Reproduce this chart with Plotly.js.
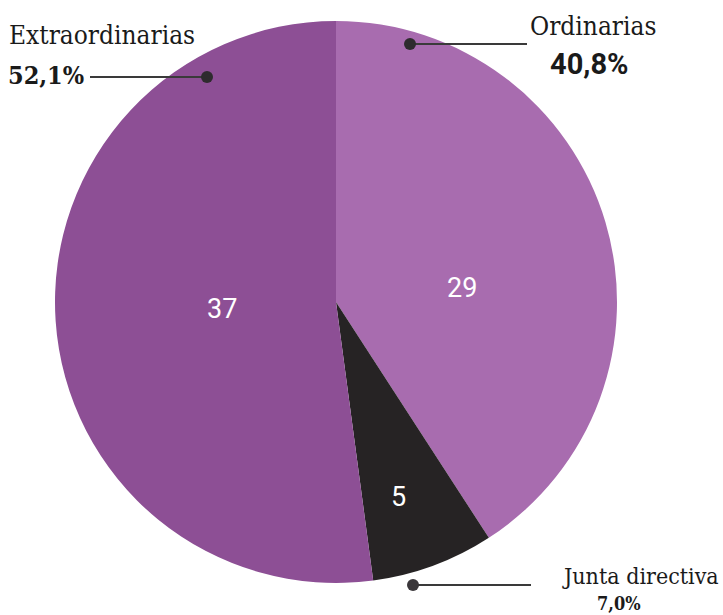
<!DOCTYPE html>
<html>
<head>
<meta charset="utf-8">
<script src="https://cdn.plot.ly/plotly-3.0.1.min.js"></script>
<style>
html,body{margin:0;padding:0;background:#fff;}
#chart{width:723px;height:615px;}
</style>
</head>
<body>
<div id="chart"></div>
<script>
// Data
var categories = ["Ordinarias", "Junta directiva", "Extraordinarias"];
var values = [29, 5, 37];
var percentLabels = ["40,8%", "7,0%", "52,1%"];
var sliceColors = ["#a86caf", "#262324", "#8d4f95"];

var W = 723, H = 615;
var cx = 336, cy = 302, R = 281;
function px(x){ return x / W; }
function py(y){ return 1 - y / H; }

var trace = {
  type: "pie",
  labels: categories,
  values: values,
  sort: false,
  direction: "clockwise",
  rotation: 0,
  textinfo: "none",
  marker: {colors: sliceColors, line: {width: 0}},
  hoverinfo: "label+value+percent",
  showlegend: false,
  domain: {x: [px(cx - R), px(cx + R)], y: [py(cy + R), py(cy - R)]}
};

var serif = "DejaVu Serif Condensed, DejaVu Serif, serif";
var numFont = {family: "Roboto, sans-serif", size: 27, color: "#ffffff"};
var lineColor = "#3a3a3a";

var layout = {
  width: W, height: H,
  margin: {l: 0, r: 0, t: 0, b: 0},
  paper_bgcolor: "#ffffff",
  showlegend: false,
  shapes: [
    {type: "line", xref: "paper", yref: "paper", x0: px(90), x1: px(207), y0: py(77), y1: py(77), line: {color: lineColor, width: 2}},
    {type: "circle", xref: "paper", yref: "paper", x0: px(201), x1: px(213), y0: py(71), y1: py(83), fillcolor: "#2e2b2e", line: {width: 0}},
    {type: "line", xref: "paper", yref: "paper", x0: px(410), x1: px(527), y0: py(44), y1: py(44), line: {color: lineColor, width: 2}},
    {type: "circle", xref: "paper", yref: "paper", x0: px(404), x1: px(416), y0: py(38), y1: py(50), fillcolor: "#2e2b2e", line: {width: 0}},
    {type: "line", xref: "paper", yref: "paper", x0: px(413), x1: px(531), y0: py(585), y1: py(585), line: {color: lineColor, width: 2}},
    {type: "circle", xref: "paper", yref: "paper", x0: px(407), x1: px(419), y0: py(579), y1: py(591), fillcolor: "#3a373a", line: {width: 0}}
  ],
  annotations: [
    // slice values
    {text: String(values[2]), xref: "paper", yref: "paper", x: px(222), y: py(309), xanchor: "center", yanchor: "middle", showarrow: false, font: numFont},
    {text: String(values[0]), xref: "paper", yref: "paper", x: px(462), y: py(288), xanchor: "center", yanchor: "middle", showarrow: false, font: numFont},
    {text: String(values[1]), xref: "paper", yref: "paper", x: px(398), y: py(497), xanchor: "center", yanchor: "middle", showarrow: false, font: numFont},
    // outside labels
    {text: categories[2], xref: "paper", yref: "paper", x: px(7), y: py(35), xanchor: "left", yanchor: "middle", showarrow: false, font: {family: serif, size: 26, color: "#1a1a1a"}},
    {text: "<b>" + percentLabels[2] + "</b>", xref: "paper", yref: "paper", x: px(6), y: py(75), xanchor: "left", yanchor: "middle", showarrow: false, font: {family: serif, size: 25, color: "#1a1a1a"}},
    {text: categories[0], xref: "paper", yref: "paper", x: px(658), y: py(26), xanchor: "right", yanchor: "middle", showarrow: false, font: {family: serif, size: 26, color: "#1a1a1a"}},
    {text: "<b>" + percentLabels[0] + "</b>", xref: "paper", yref: "paper", x: px(589), y: py(64), xanchor: "center", yanchor: "middle", showarrow: false, font: {family: "Roboto, sans-serif", size: 29, color: "#1a1a1a"}},
    {text: categories[1], xref: "paper", yref: "paper", x: px(721), y: py(576), xanchor: "right", yanchor: "middle", showarrow: false, font: {family: serif, size: 23, color: "#1a1a1a"}},
    {text: "<b>" + percentLabels[1] + "</b>", xref: "paper", yref: "paper", x: px(619), y: py(603), xanchor: "center", yanchor: "middle", showarrow: false, font: {family: serif, size: 18, color: "#1a1a1a"}}
  ]
};

Plotly.newPlot("chart", [trace], layout, {displayModeBar: false, staticPlot: true});
</script>
</body>
</html>
